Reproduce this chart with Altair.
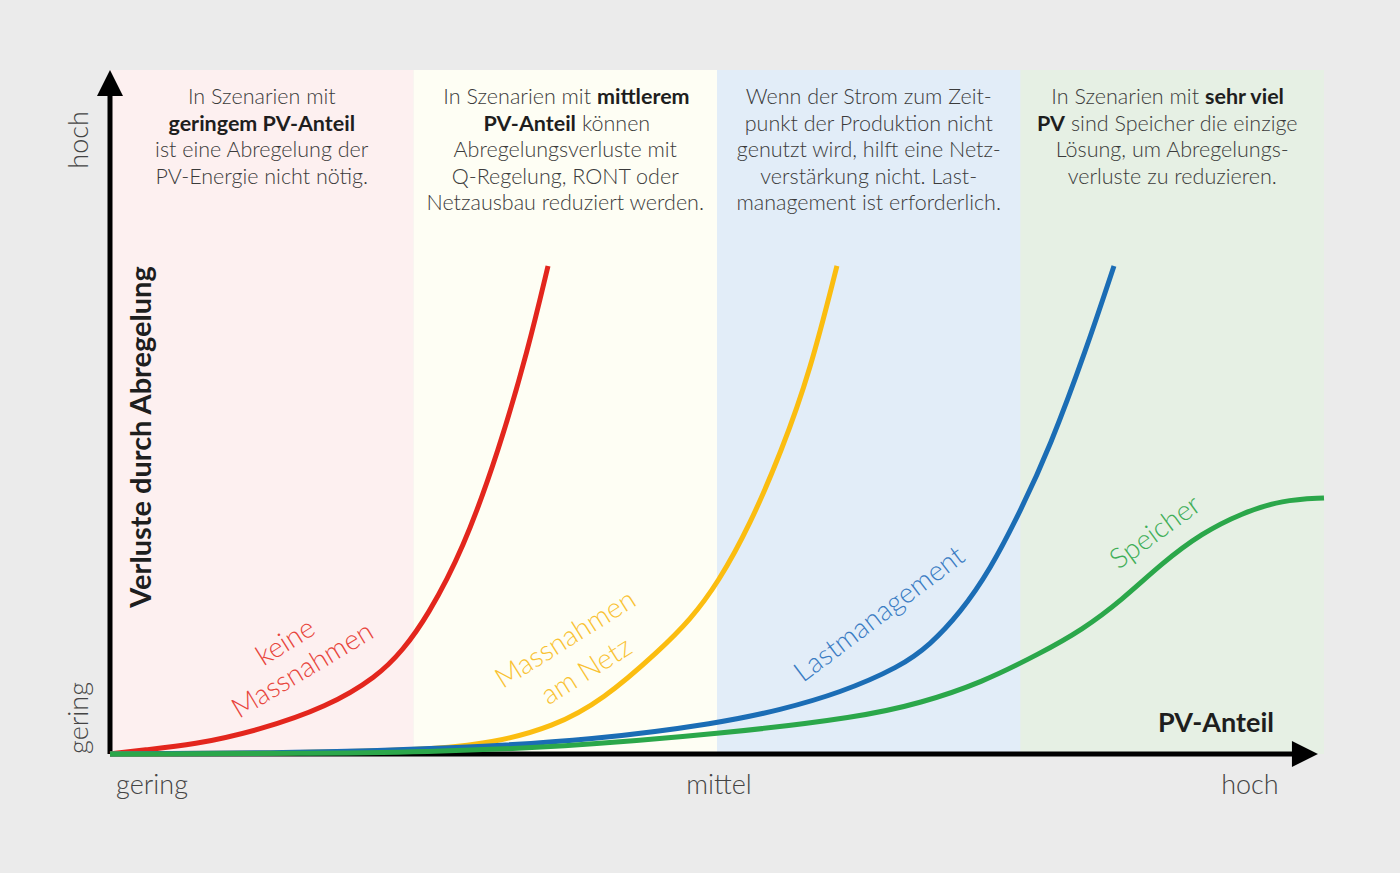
import altair as alt
import pandas as pd

# Coordinate system: x = PV-Anteil (0 gering .. 100 hoch),
# y = Verluste durch Abregelung (0 gering .. 100 hoch)

# Scenario bands along the PV-Anteil axis
band_edges = [0, 25, 50, 75, 100]
band_colors = ["#fdf0f0", "#fefef4", "#e2edf8", "#e6f0e4"]

# Curves: loss through curtailment per measure
keine_x = [0, 2.72, 6.84, 12.36, 17.87, 21.99, 24.14, 26.11, 29.08, 32.04, 34.43, 36.08]
keine_y = [0, 0.58, 1.32, 3.51, 6.87, 11.26, 15.20, 20.03, 29.82, 44.44, 59.06, 71.35]

netz_x = [0, 15.65, 26.11, 31.55, 36.49, 40.61, 45.30, 47.78, 50.08, 52.72, 55.35, 57.66, 59.88]
netz_y = [0, 0.15, 0.58, 1.61, 3.95, 7.89, 15.20, 19.59, 25.00, 33.48, 44.44, 55.85, 71.35]

last_x = [0, 15.65, 28.83, 39.79, 50.25, 55.19, 60.13, 65.07, 67.55, 70.02, 72.49, 74.96, 77.43, 80.40, 82.70]
last_y = [0, 0.15, 0.88, 2.05, 4.53, 6.43, 8.92, 12.72, 15.94, 20.61, 26.90, 35.38, 44.88, 59.06, 71.35]

speicher_x = [0, 15.65, 26.11, 37.07, 50.25, 61.86, 66.80, 71.75, 76.69, 80.07, 83.36, 86.66, 89.95, 93.25, 96.54, 100]
speicher_y = [0, 0.07, 0.29, 1.02, 2.92, 5.41, 7.46, 10.38, 14.77, 18.13, 22.51, 27.92, 32.31, 35.23, 37.13, 37.43]

curve_colors = ["#e3261d", "#fbbd10", "#1b6db5", "#2ba74a"]
label_colors = ["#e8453c", "#f9c232", "#3a7cc3", "#3fae58"]

# Band descriptions: each line is a list of (text, weight) segments
band_text = [
    [[("In Szenarien mit", "l")],
     [("geringem PV-Anteil", "b")],
     [("ist eine Abregelung der", "l")],
     [("PV-Energie nicht nötig.", "l")]],
    [[("In Szenarien mit", "l"), ("mittlerem", "b")],
     [("PV-Anteil", "b"), ("können", "l")],
     [("Abregelungsverluste mit", "l")],
     [("Q-Regelung, RONT oder", "l")],
     [("Netzausbau reduziert werden.", "l")]],
    [[("Wenn der Strom zum Zeit-", "l")],
     [("punkt der Produktion nicht", "l")],
     [("genutzt wird, hilft eine Netz-", "l")],
     [("verstärkung nicht. Last-", "l")],
     [("management ist erforderlich.", "l")]],
    [[("In Szenarien mit", "l"), ("sehr viel", "b")],
     [("PV", "b"), ("sind Speicher die einzige", "l")],
     [("Lösung, um Abregelungs-", "l")],
     [("verluste zu reduzieren.", "l")]],
]
line_y = [95.9, 92.0, 88.2, 84.2, 80.4]
# where the two weights meet on mixed lines (band, line) -> x
split_x = {(1, 0): 39.87, (1, 1): 38.63, (3, 0): 89.95, (3, 1): 78.91}

X = alt.Scale(domain=[0, 100], range=[110, 1324], nice=False, zero=False)
Y = alt.Scale(domain=[0, 100], range=[754, 70], nice=False, zero=False)

FONT = "Lato"
TXT = "#3b3b3b"
BOLD = "#1e1e1e"


def xq(field="x"):
    return alt.X(f"{field}:Q", scale=X, axis=None)


def yq(field="y"):
    return alt.Y(f"{field}:Q", scale=Y, axis=None)


layers = []

# background bands
bands = pd.DataFrame({
    "x": band_edges[:-1], "x2": band_edges[1:],
    "y": [0] * 4, "y2": [100] * 4, "c": band_colors,
})
layers.append(
    alt.Chart(bands).mark_rect(strokeWidth=0).encode(
        x=xq(), x2="x2:Q", y=yq(), y2="y2:Q",
        color=alt.Color("c:N", scale=None),
    )
)

# band descriptions
rows = []
for b, lines in enumerate(band_text):
    cx = (band_edges[b] + band_edges[b + 1]) / 2
    for i, segs in enumerate(lines):
        if len(segs) == 1:
            rows.append({"x": cx, "y": line_y[i], "t": segs[0][0], "w": segs[0][1], "a": "center", "dx": 0})
        else:
            sx = split_x[(b, i)]
            rows.append({"x": sx, "y": line_y[i], "t": segs[0][0], "w": segs[0][1], "a": "right", "dx": -3})
            rows.append({"x": sx, "y": line_y[i], "t": segs[1][0], "w": segs[1][1], "a": "left", "dx": 3})
tdf = pd.DataFrame(rows)
for (w, a, dx), grp in tdf.groupby(["w", "a", "dx"]):
    layers.append(
        alt.Chart(grp).mark_text(
            font=FONT, fontSize=21.5, fontWeight=700 if w == "b" else 300,
            color=BOLD if w == "b" else TXT, align=a, baseline="middle", dx=int(dx),
        ).encode(x=xq(), y=yq(), text="t:N")
    )

# axis lines
axis_lines = pd.DataFrame({"x": [0, 0], "x2": [0, 99], "y": [0, 0], "y2": [98, 0]})
layers.append(
    alt.Chart(axis_lines).mark_rule(color="#000000", strokeWidth=5).encode(
        x=xq(), x2="x2:Q", y=yq(), y2="y2:Q"
    )
)

# curves
curves = [
    (keine_x, keine_y), (netz_x, netz_y), (last_x, last_y), (speicher_x, speicher_y)
]
for (cxs, cys), col in zip(curves, curve_colors):
    d = pd.DataFrame({"x": cxs, "y": cys})
    layers.append(
        alt.Chart(d).mark_line(
            interpolate="basis", strokeWidth=5, color=col, strokeCap="butt"
        ).encode(x=xq(), y=yq())
    )

# arrowheads at the axis ends
up = pd.DataFrame({"x": [0], "y": [100]})
layers.append(
    alt.Chart(up).mark_point(
        shape="M0,0L0.5,1L-0.5,1Z", size=2704, filled=True, color="#000000", opacity=1, strokeWidth=0
    ).encode(x=xq(), y=yq())
)
right = pd.DataFrame({"x": [99.5], "y": [0]})
layers.append(
    alt.Chart(right).mark_point(
        shape="M0,0L-1,-0.5L-1,0.5Z", size=2704, filled=True, color="#000000", opacity=1, strokeWidth=0
    ).encode(x=xq(), y=yq())
)

# axis labels
axis_lbl = pd.DataFrame({
    "x": [-2.47, -2.47, 3.46, 50.16, 93.9],
    "y": [89.77, 5.26, -4.68, -4.68, -4.68],
    "t": ["hoch", "gering", "gering", "mittel", "hoch"],
    "ang": [270, 270, 0, 0, 0],
})
for ang, grp in axis_lbl.groupby("ang"):
    layers.append(
        alt.Chart(grp).mark_text(
            font=FONT, fontSize=27, fontWeight=300, color="#444444",
            align="center", baseline="middle", angle=int(ang),
        ).encode(x=xq(), y=yq(), text="t:N")
    )

layers.append(
    alt.Chart(pd.DataFrame({"x": [2.64], "y": [46.35], "t": ["Verluste durch Abregelung"]}))
    .mark_text(font=FONT, fontSize=29, fontWeight=700, color=BOLD, align="center",
               baseline="middle", angle=270)
    .encode(x=xq(), y=yq(), text="t:N")
)
layers.append(
    alt.Chart(pd.DataFrame({"x": [91.1], "y": [4.39], "t": ["PV-Anteil"]}))
    .mark_text(font=FONT, fontSize=27, fontWeight=700, color=BOLD, align="center", baseline="middle")
    .encode(x=xq(), y=yq(), text="t:N")
)

# curve labels
curve_lbl = [
    (14.5, 16.23, "keine", 328, 0),
    (15.9, 12.13, "Massnahmen", 329, 0),
    (37.56, 16.67, "Massnahmen", 328, 1),
    (39.29, 11.99, "am Netz", 328, 1),
    (63.43, 20.32, "Lastmanagement", 323, 2),
    (86.16, 32.31, "Speicher", 324, 3),
]
for lx, ly, t, ang, ci in curve_lbl:
    layers.append(
        alt.Chart(pd.DataFrame({"x": [lx], "y": [ly], "t": [t]}))
        .mark_text(font=FONT, fontSize=28, fontWeight=300, color=label_colors[ci],
                   align="center", baseline="middle", angle=ang)
        .encode(x=xq(), y=yq(), text="t:N")
    )

chart = alt.layer(*layers).properties(
    width=1400, height=873, padding=0, autosize="none", background="#ebebeb"
).configure_view(stroke=None)

chart.save("out.html", embed_options={"renderer": "svg", "actions": False})
